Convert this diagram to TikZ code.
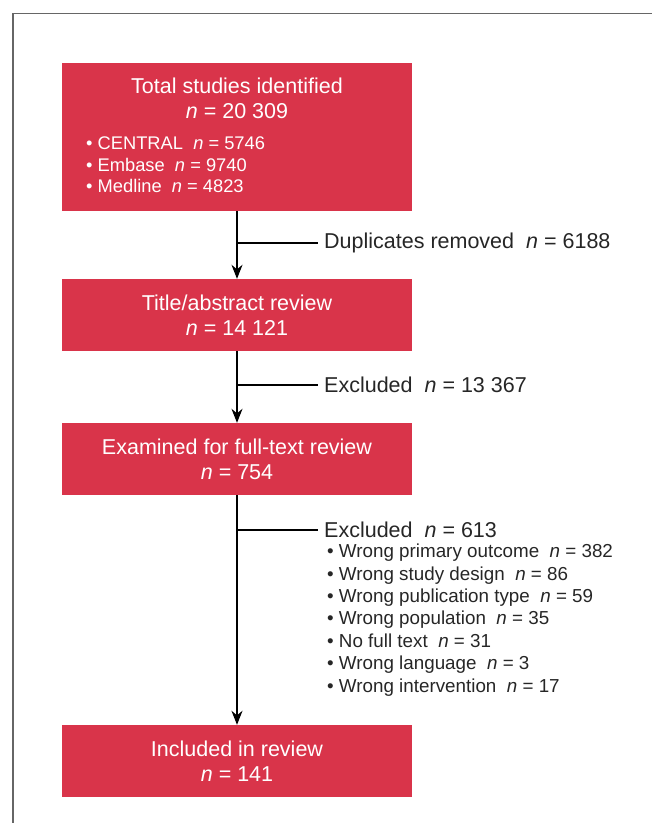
\documentclass[tikz,border=0pt]{standalone}
\usepackage{fontspec}
\setmainfont{Liberation Sans}
\usetikzlibrary{positioning,arrows.meta}
\definecolor{boxred}{RGB}{217,52,74}

\begin{document}
\begin{tikzpicture}[x=1pt,y=-1pt,
      >={Stealth[length=14pt,width=11pt]},
      every node/.style={font=\fontsize{21.5}{25}\selectfont},
      stage/.style={fill=boxred,text=white,minimum width=350pt,minimum height=72pt,inner sep=0pt,align=center},
      boxtxt/.style={text=white,inner sep=0pt,align=center},
      boxlist/.style={text=white,inner sep=0pt,anchor=west,align=left,font=\fontsize{18.3}{21.5}\selectfont},
      side/.style={text=black!85,anchor=west,inner xsep=6pt,inner ysep=0pt},
      sidelist/.style={text=black!85,anchor=west,inner sep=0pt,align=left,font=\fontsize{18.8}{22.4}\selectfont},
      flow/.style={draw=black,line width=1.2pt},
      frame/.style={draw=black!60,line width=1.5pt}
    ]
    \useasboundingbox (0,0) rectangle (652,823);
    % frame
    \draw[frame] (13,823) -- (13,13.5) -- (652,13.5);
    % stages
    \node[stage,minimum height=148pt] (total) at (237,137) {};
    \node[boxtxt] (totaltxt) at (237,98) {Total studies identified\\ \textit{n} = 20 309};
    \node[boxlist] (sources) at (86,165) {• CENTRAL~~\textit{n} = 5746\\ • Embase~~\textit{n} = 9740\\ • Medline~~\textit{n} = 4823};
    \node[stage] (screen) at (237,315) {Title/abstract review\\ \textit{n} = 14 121};
    \node[stage] (fulltext) at (237,459) {Examined for full-text review\\ \textit{n} = 754};
    \node[stage] (included) at (237,761) {Included in review\\ \textit{n} = 141};
    % removed records
    \node[side] (dupl) at (318,243) {Duplicates removed~~\textit{n} = 6188};
    \node[side] (excl1) at (318,385) {Excluded~~\textit{n} = 13 367};
    \node[side] (excl2) at (318,530) {Excluded~~\textit{n} = 613};
    \node[sidelist] (reasons) at (327,620) {• Wrong primary outcome~~\textit{n} = 382\\
      • Wrong study design~~\textit{n} = 86\\
      • Wrong publication type~~\textit{n} = 59\\
      • Wrong population~~\textit{n} = 35\\
      • No full text~~\textit{n} = 31\\
      • Wrong language~~\textit{n} = 3\\
      • Wrong intervention~~\textit{n} = 17};
    % connectors
    \foreach \a/\b in {total/screen,screen/fulltext,fulltext/included}{\draw[flow,->] (\a) -- (\b);}
    \foreach \a/\c in {total/dupl,screen/excl1,fulltext/excl2}{\draw[flow] (\a.south |- \c.west) -- (\c.west);}
  \end{tikzpicture}
\end{document}
